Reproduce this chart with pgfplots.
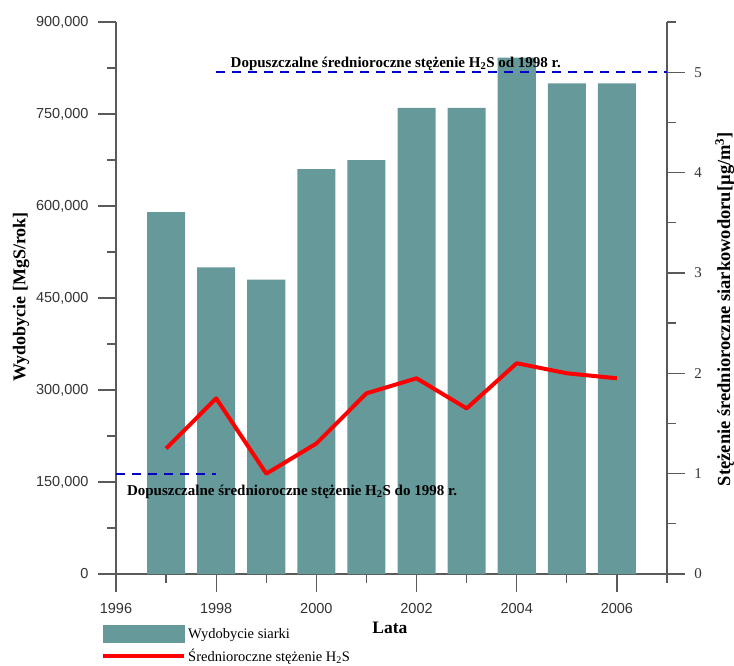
\documentclass[border=0pt]{standalone}
\usepackage{fontspec}
\setmainfont{Liberation Serif}
\setsansfont{Liberation Sans}
\usepackage{pgfplots}
\usepackage{pgfplotstable}
\pgfplotsset{compat=1.18}

\definecolor{barc}{RGB}{102,153,153}
\definecolor{limc}{RGB}{0,0,200}
\definecolor{axc}{RGB}{90,90,90}

\pgfplotstableread{
year prod   h2s
1997 590000 1.25
1998 500000 1.75
1999 480000 1.00
2000 660000 1.30
2001 675000 1.80
2002 760000 1.95
2003 760000 1.65
2004 842000 2.10
2005 800000 2.00
2006 800000 1.95
}\data

\pgfplotsset{
  common/.style={
    width=551pt, height=552pt, scale only axis,
    xmin=1996, xmax=2007,
    tick align=outside,
    major tick length=18pt, minor tick length=9pt,
    every tick/.style={axc, line width=1.2pt},
    axis line style={axc, line width=1.2pt},
    /pgf/number format/assume math mode=true,
  },
}

\begin{document}
\begin{tikzpicture}
\begin{axis}[common, name=ax,
    axis x line*=bottom, axis y line*=left,
    ymin=0, ymax=900000,
    ytick={0,150000,...,900000},
    minor ytick={75000,225000,...,825000},
    scaled y ticks=false,
    xtick={1996,1998,...,2006},
    minor xtick={1997,1999,...,2007},
    yticklabel style={font=\fontsize{14.5}{16}\sffamily\selectfont, text=black!80,
      xshift=-6pt, /pgf/number format/.cd, fixed, 1000 sep={,}},
    xticklabel style={font=\fontsize{14.5}{16}\sffamily\selectfont, text=black!80,
      yshift=-8pt, /pgf/number format/1000 sep={}},
    ylabel={Wydobycie [MgS/rok]},
    ylabel style={at={(axis description cs:-0.172,0.502)}, anchor=center,
      font=\bfseries\fontsize{18}{20}\selectfont},
    xlabel={Lata},
    xlabel style={at={(axis description cs:0.497,-0.098)}, anchor=center,
      font=\bfseries\fontsize{17.5}{20}\selectfont},
  ]
  \addplot[ybar, bar width=0.76, fill=barc, draw=none] table[x=year, y=prod]{\data};
\end{axis}

\begin{axis}[common,
    axis x line=none, axis y line*=right,
    ymin=0, ymax=5.5,
    ytick={0,...,5},
    minor ytick={0.5,1.5,...,5.5},
    yticklabel style={font=\fontsize{15}{16}\selectfont, text=black!80, xshift=6pt},
    ylabel={Stężenie średnioroczne siarkowodoru[µg/m\textsuperscript{3}]},
    ylabel style={at={(axis description cs:1.105,0.48)}, anchor=center,
      font=\bfseries\fontsize{18.5}{20}\selectfont},
    legend style={at={(rel axis cs:0,0)}, anchor=north west,
      xshift=-18pt, yshift=-49pt, draw=none, fill=none,
      font=\fontsize{14.5}{17}\selectfont, row sep=4pt},
    legend cell align=left,
  ]
  \addlegendimage{legend image code/.code={\fill[barc] (0pt,-8.5pt) rectangle (81pt,8.5pt);}}
  \addlegendentry{Wydobycie siarki}
  \addplot[limc, line width=2pt, dash pattern=on 9pt off 7pt, forget plot]
    coordinates {(1996,1) (1998,1)};
  \addplot[limc, line width=2pt, dash pattern=on 9pt off 7pt, forget plot]
    coordinates {(1998,5) (2007,5)};
  \addplot[red, line width=4pt, line join=round,
    legend image code/.code={\draw[red, line width=4pt] (0pt,0pt) -- (81pt,0pt);}]
    table[x=year, y=h2s]{\data};
  \addlegendentry{Średnioroczne stężenie H\textsubscript{2}S}
  \node[anchor=base west, font=\bfseries\fontsize{15}{17}\selectfont]
    at (axis cs:1998.22,5.05) {Dopuszczalne średnioroczne stężenie H\textsubscript{2}S od 1998 r.};
  \node[anchor=base west, font=\bfseries\fontsize{15}{17}\selectfont]
    at (axis cs:1996.15,0.787) {Dopuszczalne średnioroczne stężenie H\textsubscript{2}S do 1998 r.};
\end{axis}

\pgfresetboundingbox
\path[use as bounding box] ([shift={(-116pt,-91pt)}]ax.south west) rectangle ++(734pt,665pt);
\end{tikzpicture}
\end{document}
